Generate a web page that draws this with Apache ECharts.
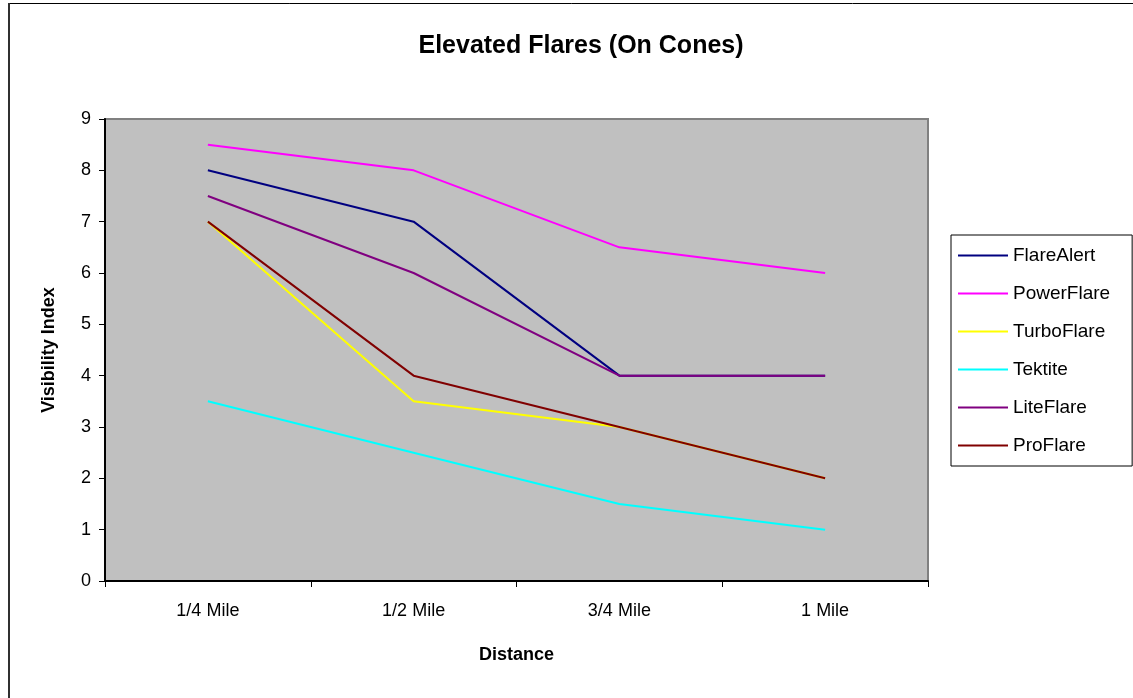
<!DOCTYPE html>
<html>
<head>
<meta charset="utf-8">
<script src="https://cdn.jsdelivr.net/npm/echarts@6/dist/echarts.min.js"></script>
<style>
html,body{margin:0;padding:0;background:#fff;}
#chart{width:1133px;height:698px;}
</style>
</head>
<body>
<div id="chart"></div>
<script>
var categories = ['1/4 Mile', '1/2 Mile', '3/4 Mile', '1 Mile'];
var flareAlert = [8, 7, 4, 4];
var powerFlare = [8.5, 8, 6.5, 6];
var turboFlare = [7, 3.5, 3, 2];
var tektite = [3.5, 2.5, 1.5, 1];
var liteFlare = [7.5, 6, 4, 4];
var proFlare = [7, 4, 3, 2];
var seriesNames = ['FlareAlert', 'PowerFlare', 'TurboFlare', 'Tektite', 'LiteFlare', 'ProFlare'];
var seriesColors = ['#000080', '#FF00FF', '#FFFF00', '#00FFFF', '#800080', '#800000'];
var seriesData = [flareAlert, powerFlare, turboFlare, tektite, liteFlare, proFlare];
var yTicks = { min: 0, max: 9, interval: 1 };

var font = '"Liberation Sans", Arial, sans-serif';
var chart = echarts.init(document.getElementById('chart'));
chart.setOption({
  animation: false,
  backgroundColor: '#fff',
  title: {
    text: 'Elevated Flares (On Cones)',
    left: 576, top: 29, textAlign: 'center',
    textStyle: { fontFamily: font, fontSize: 25, fontWeight: 'bold', color: '#000' }
  },
  graphic: [
    { type: 'rect', shape: { x: 8.5, y: 3.5, width: 1300, height: 900 }, style: { fill: 'none', stroke: '#000', lineWidth: 1 }, silent: true },
    { type: 'line', shape: { x1: 9, y1: 3, x2: 9, y2: 698 }, style: { stroke: '#303030', lineWidth: 2 }, silent: true }
  ],
  grid: {
    left: 105, right: 205, top: 119, bottom: 117,
    show: true, backgroundColor: '#C0C0C0', borderColor: '#808080', borderWidth: 2
  },
  legend: {
    orient: 'vertical',
    left: 951, top: 235,
    padding: [10, 22, 10, 7],
    icon: 'rect',
    itemWidth: 50, itemHeight: 2, itemGap: 17,
    borderColor: '#000', borderWidth: 1,
    backgroundColor: '#fff',
    textStyle: { fontFamily: font, fontSize: 19, lineHeight: 21, color: '#000' },
    data: seriesNames
  },
  xAxis: {
    type: 'category',
    data: categories,
    boundaryGap: true,
    name: 'Distance', nameLocation: 'middle', nameGap: 65,
    nameTextStyle: { fontFamily: font, fontSize: 18, fontWeight: 'bold', color: '#000' },
    axisLine: { lineStyle: { color: '#000', width: 2 } },
    axisTick: { show: true, length: 6, inside: false, lineStyle: { color: '#000' } },
    axisLabel: { fontFamily: font, fontSize: 18, color: '#000', margin: 21 },
    splitLine: { show: false }
  },
  yAxis: {
    type: 'value',
    min: yTicks.min, max: yTicks.max, interval: yTicks.interval,
    name: 'Visibility Index', nameLocation: 'middle', nameGap: 47,
    nameTextStyle: { fontFamily: font, fontSize: 18, fontWeight: 'bold', color: '#000' },
    axisLine: { show: true, lineStyle: { color: '#000', width: 2 } },
    axisTick: { show: true, length: 6, lineStyle: { color: '#000' } },
    axisLabel: { fontFamily: font, fontSize: 18, color: '#000', margin: 14 },
    splitLine: { show: false }
  },
  series: seriesNames.map(function (n, i) {
    return {
      name: n, type: 'line', data: seriesData[i],
      symbol: 'none', color: seriesColors[i],
      itemStyle: { color: seriesColors[i] },
      lineStyle: { color: seriesColors[i], width: 2 }
    };
  })
});
</script>
</body>
</html>
